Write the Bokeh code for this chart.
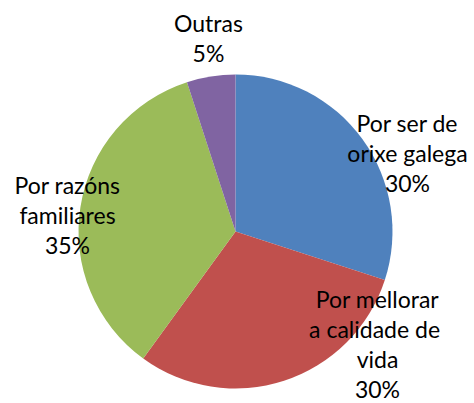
from math import pi
from bokeh.plotting import figure
from bokeh.models import Range1d, ColumnDataSource
from bokeh.core.properties import value
from bokeh.embed import file_html
from bokeh.resources import INLINE

categories = ["Por ser de\norixe galega", "Por mellorar\na calidade  de\nvida", "Por razóns\nfamiliares", "Outras"]
percents = [30, 30, 35, 5]
colors = ["#4F81BD", "#C0504D", "#9BBB59", "#8064A2"]

# layout (screen px of the label block centres)
label_pos = [(407, 122), (377, 298), (67, 184), (208, 22)]
line_pitch = 30
W, H = 474, 403

p = figure(width=W, height=H, output_backend="svg", toolbar_location=None,
           x_range=Range1d(0, W), y_range=Range1d(0, H),
           min_border=0, outline_line_color=None)
p.axis.visible = False
p.grid.visible = False

cx, cy, r = 235, H - 231, 157
total = sum(percents)
starts, ends = [], []
cum = 0
for v in percents:
    starts.append(pi / 2 - cum / total * 2 * pi)
    cum += v
    ends.append(pi / 2 - cum / total * 2 * pi)

src = ColumnDataSource(dict(x=[cx] * 4, y=[cy] * 4, start=starts, end=ends, color=colors))
p.wedge(x="x", y="y", radius=r, start_angle="start", end_angle="end", direction="clock",
        fill_color="color", line_color=None, source=src)

tx, ty, tt = [], [], []
for cat, pct, (lx, ly) in zip(categories, percents, label_pos):
    lines = cat.split("\n") + [f"{pct}%"]
    for i, ln in enumerate(lines):
        tx.append(lx)
        ty.append(H - (ly + i * line_pitch))
        tt.append(ln)

p.text(x=tx, y=ty, text=tt, text_align="center", text_baseline="middle",
       text_font=value("Lato"), text_font_size="23px", text_color="#000000")

open("out.html", "w").write(file_html(p, INLINE))
